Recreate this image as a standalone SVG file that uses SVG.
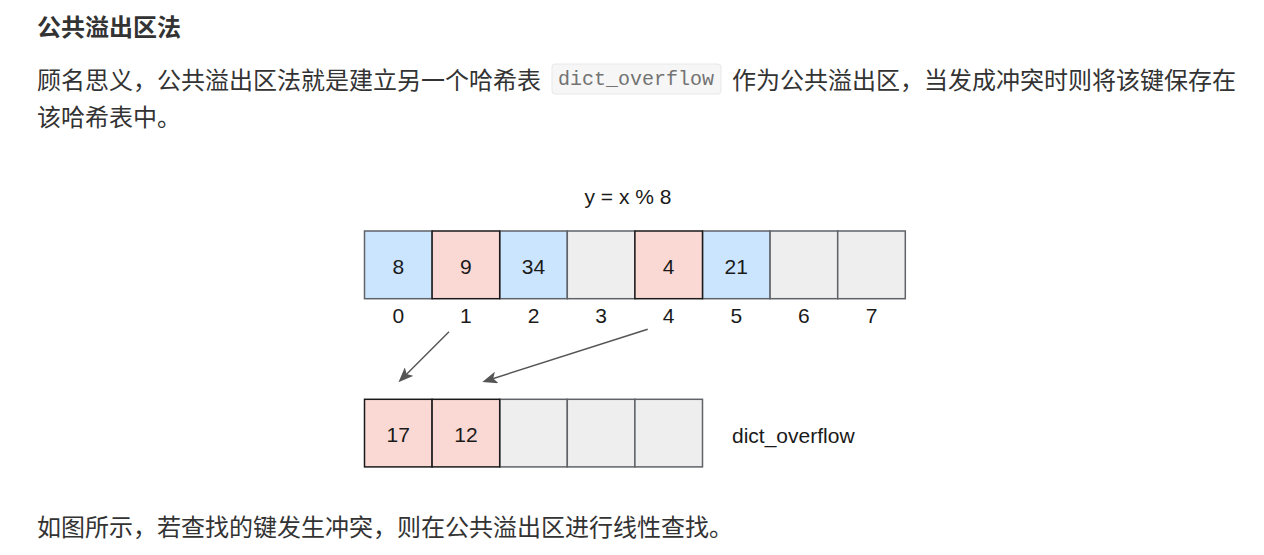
<svg xmlns="http://www.w3.org/2000/svg" width="1264" height="555" viewBox="0 0 1264 555">
<style>
.bg{fill:#ffffff}
.cjk{font-family:"Noto Sans CJK SC","Noto Sans",sans-serif;font-size:24px;fill:#333333}
.h{font-weight:700}
.code-box{fill:#f6f6f6;stroke:#e8e8e8;stroke-width:1}
.code{font-family:"Liberation Mono",monospace;font-size:20px;fill:#737373}
.lbl{font-family:"Liberation Sans",Arial,sans-serif;font-size:21px;fill:#1a1a1a;text-anchor:middle}
.lbl-l{font-family:"Liberation Sans",Arial,sans-serif;font-size:21px;fill:#1a1a1a}
.blue{fill:#cce5ff;stroke:#5f6368;stroke-width:1.5}
.gray{fill:#eeeeee;stroke:#5f6368;stroke-width:1.5}
.pink{fill:#fad9d5;stroke:#1a1a1a;stroke-width:1.5}
.conn{stroke:#555555;stroke-width:1.5;fill:none;marker-end:url(#arr)}
</style>
<defs>
<marker id="arr" markerUnits="userSpaceOnUse" markerWidth="16" markerHeight="12" refX="10" refY="6" orient="auto">
<path d="M0,0 L15,6 L0,12 L3.5,6 Z" fill="#555555"/>
</marker>
</defs>
<rect class="bg" x="0" y="0" width="1264" height="555"/>

<g id="heading"><text class="cjk h" x="37" y="36">公共溢出区法</text></g>
<g id="para1">
<text class="cjk" x="37" y="89">顾名思义，公共溢出区法就是建立另一个哈希表</text>
<rect class="code-box" x="552" y="64" width="169" height="30" rx="3"/>
<text class="code" x="558" y="85">dict_overflow</text>
<text class="cjk" x="732" y="89">作为公共溢出区，当发成冲突时则将该键保存在</text>
<text class="cjk" x="37" y="125.5">该哈希表中。</text>
</g>

<g id="formula"><text class="lbl" x="628" y="204">y = x % 8</text></g>

<g id="hash-table">
<g id="cell0"><rect class="blue" x="364.5" y="231" width="67.6" height="67.7"/><text class="lbl" x="398.3" y="273.5">8</text></g>
<g id="cell2"><rect class="blue" x="499.7" y="231" width="67.6" height="67.7"/><text class="lbl" x="533.5" y="273.5">34</text></g>
<g id="cell3"><rect class="gray" x="567.3" y="231" width="67.6" height="67.7"/></g>
<g id="cell5"><rect class="blue" x="702.5" y="231" width="67.6" height="67.7"/><text class="lbl" x="736.3" y="273.5">21</text></g>
<g id="cell6"><rect class="gray" x="770.1" y="231" width="67.6" height="67.7"/></g>
<g id="cell7"><rect class="gray" x="837.7" y="231" width="67.6" height="67.7"/></g>
<g id="cell1"><rect class="pink" x="432.1" y="231" width="67.6" height="67.7"/><text class="lbl" x="465.9" y="273.5">9</text></g>
<g id="cell4"><rect class="pink" x="634.9" y="231" width="67.6" height="67.7"/><text class="lbl" x="668.7" y="273.5">4</text></g>
</g>

<g id="indices">
<text class="lbl" x="398.3" y="323">0</text>
<text class="lbl" x="465.9" y="323">1</text>
<text class="lbl" x="533.5" y="323">2</text>
<text class="lbl" x="601.1" y="323">3</text>
<text class="lbl" x="668.7" y="323">4</text>
<text class="lbl" x="736.3" y="323">5</text>
<text class="lbl" x="803.9" y="323">6</text>
<text class="lbl" x="871.5" y="323">7</text>
</g>

<g id="overflow-table">
<g id="ocell2"><rect class="gray" x="499.7" y="399.3" width="67.6" height="67.6"/></g>
<g id="ocell3"><rect class="gray" x="567.3" y="399.3" width="67.6" height="67.6"/></g>
<g id="ocell4"><rect class="gray" x="634.9" y="399.3" width="67.6" height="67.6"/></g>
<g id="ocell0"><rect class="pink" x="364.5" y="399.3" width="67.6" height="67.6"/><text class="lbl" x="398.3" y="441.5">17</text></g>
<g id="ocell1"><rect class="pink" x="432.1" y="399.3" width="67.6" height="67.6"/><text class="lbl" x="465.9" y="441.5">12</text></g>
</g>
<g id="overflow-label"><text class="lbl-l" x="732" y="443">dict_overflow</text></g>

<g id="connectors">
<line class="conn" x1="449" y1="331.7" x2="402" y2="378.7"/>
<line class="conn" x1="647.7" y1="329.3" x2="487.1" y2="380.5"/>
</g>

<g id="para2"><text class="cjk" x="37" y="536">如图所示，若查找的键发生冲突，则在公共溢出区进行线性查找。</text></g>
</svg>
